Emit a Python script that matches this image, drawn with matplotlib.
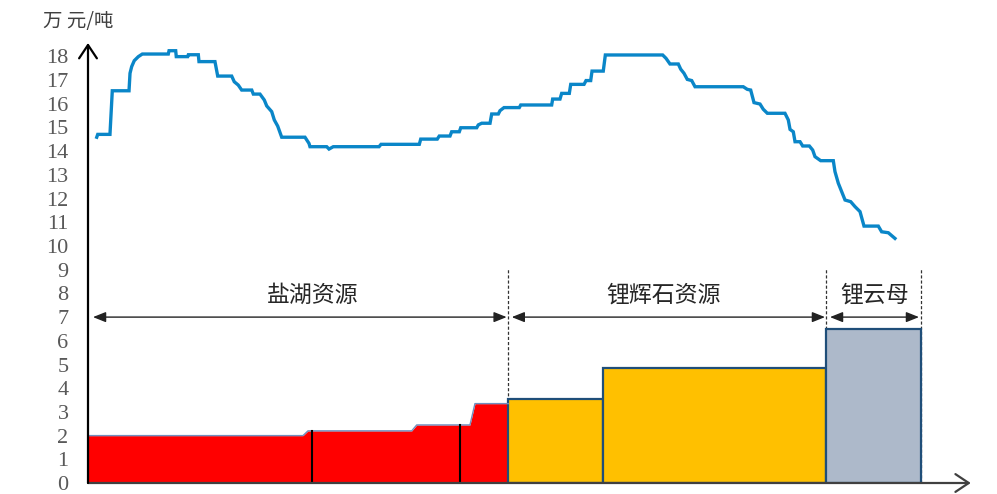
import matplotlib
matplotlib.use("Agg")
import matplotlib.pyplot as plt
import numpy as np

# ---- data -------------------------------------------------------------
# lithium carbonate price (10k yuan / tonne) along the horizontal axis
price_x = [1.05, 1.17, 2.64, 2.92, 4.93, 5.05, 5.25, 5.56, 6.05, 6.53, 9.65, 9.74,
           10.54, 10.61, 11.98, 12.06, 13.26, 13.34, 15.26, 15.59, 17.27, 17.58,
           18.06, 18.47, 19.68, 19.87, 20.67, 21.19, 21.48, 22.08, 22.39, 22.80,
           23.28, 26.08, 26.56, 26.68, 28.69, 28.97, 29.48, 34.98, 35.22, 39.82,
           39.99, 41.98, 42.22, 43.51, 43.71, 44.63, 44.80, 46.72, 46.91, 47.32,
           48.32, 48.52, 49.32, 49.52, 50.00, 51.84, 52.01, 55.73, 55.85, 56.73,
           56.93, 57.85, 58.02, 59.62, 59.86, 60.42, 60.58, 61.93, 62.18, 69.07,
           69.47, 69.95, 70.95, 71.24, 71.63, 72.03, 72.56, 72.96, 78.76, 79.24,
           79.65, 80.05, 80.77, 81.16, 81.65, 83.77, 84.17, 84.38, 84.77, 84.98,
           85.58, 85.90, 86.70, 87.10, 87.38, 88.06, 89.58, 89.78, 90.18, 90.59,
           90.99, 91.67, 92.19, 92.79, 93.27, 94.99, 95.39, 96.19, 96.99]
price_y = [14.59, 14.71, 14.71, 16.55, 16.55, 17.29, 17.57, 17.82, 17.99, 18.10, 18.10, 18.24,
           18.24, 17.99, 17.99, 18.07, 18.07, 17.78, 17.78, 17.17, 17.17, 16.93,
           16.79, 16.58, 16.58, 16.41, 16.41, 16.16, 15.91, 15.67, 15.32, 15.06,
           14.59, 14.59, 14.33, 14.19, 14.19, 14.09, 14.19, 14.19, 14.29, 14.29,
           14.51, 14.51, 14.64, 14.64, 14.82, 14.82, 14.99, 14.99, 15.11, 15.18,
           15.18, 15.57, 15.57, 15.71, 15.84, 15.84, 15.95, 15.95, 16.20, 16.20,
           16.44, 16.44, 16.82, 16.82, 16.98, 16.98, 17.38, 17.38, 18.06, 18.06,
           17.92, 17.68, 17.68, 17.46, 17.29, 17.03, 16.98, 16.72, 16.72, 16.61,
           16.58, 16.05, 15.99, 15.77, 15.60, 15.60, 15.32, 14.92, 14.82, 14.40,
           14.40, 14.22, 14.22, 14.05, 13.77, 13.60, 13.60, 13.14, 12.65, 12.29,
           11.94, 11.87, 11.66, 11.45, 10.84, 10.84, 10.60, 10.56, 10.32]

# salt-lake cost curve (cumulative capacity -> cash cost)
brine_x = [0.0, 25.84, 26.44, 38.91, 39.51, 45.91, 46.51, 50.52]
brine_y = [2.00, 2.00, 2.20, 2.20, 2.45, 2.45, 3.35, 3.35]
brine_splits = [26.92, 44.71]

# spodumene and lepidolite blocks: edges and cost
spod_edges = [50.52, 61.86, 88.67]
spod_cost = [3.53, 4.87]
lepi_edges = [88.67, 100.08]
lepi_cost = [6.49]

# resource groups
group_bounds = [0.0, 50.52, 88.67, 100.08]
group_labels = ["盐湖资源", "锂辉石资源", "锂云母"]
group_label_x = [27.0, 69.2, 94.5]

yticks = list(range(0, 19))
unit_label = "万 元/吨"

# ---- figure -------------------------------------------------------------
W, H = 997, 494
fig = plt.figure(figsize=(W / 100, H / 100), dpi=100)
x_px = 8.32   # pixels per x unit
y_px = 23.7   # pixels per y unit
left, bottom, right, top = 88, 483, 985, 38
ax = fig.add_axes([left / W, (H - bottom) / H, (right - left) / W, (bottom - top) / H])
ax.set_xlim(0, (right - left) / x_px)
ax.set_ylim(0, (bottom - top) / y_px)

for s in ax.spines.values():
    s.set_visible(False)
ax.set_xticks([])
ax.set_yticks(yticks)
ax.set_yticklabels([str(t) for t in yticks], fontfamily="Liberation Serif",
                   fontsize=16, color="#595959")
ax.tick_params(axis="y", length=0, pad=14)

cjk = ["Noto Sans CJK SC", "DejaVu Sans"]

# group separators (dashed)
for xb in group_bounds[1:]:
    ax.plot([xb, xb], [0, 9.07], color="#333333", lw=0.9, ls=(0, (2.5, 1.6)), zorder=1)

# salt-lake block
ax.fill_between(brine_x, 0, brine_y, color="#FF0000", lw=0, zorder=2)
ax.plot(brine_x, brine_y, color="#6F8FBF", lw=1.0, zorder=3)
for xs in brine_splits:
    ax.plot([xs, xs], [0, np.interp(xs, brine_x, brine_y)], color="black", lw=1.5, zorder=3)

# spodumene blocks
for i, c in enumerate(spod_cost):
    ax.bar(spod_edges[i], c, width=spod_edges[i + 1] - spod_edges[i], align="edge",
           color="#FFC000", edgecolor="#1F4E79", lw=1.6, zorder=2)
# lepidolite block
for i, c in enumerate(lepi_cost):
    ax.bar(lepi_edges[i], c, width=lepi_edges[i + 1] - lepi_edges[i], align="edge",
           color="#ADB9CA", edgecolor="#1F4E79", lw=1.6, zorder=2)

# price line
ax.plot(price_x, price_y, color="#0A86C8", lw=2.4, solid_joinstyle="miter", zorder=4)

# range arrows and labels
gaps = [(0.6, 50.32), (50.93, 88.58), (89.18, 99.88)]
for (a, b), lab, lx in zip(gaps, group_labels, group_label_x):
    ax.annotate("", xy=(b, 7.0), xytext=(a, 7.0),
                arrowprops=dict(arrowstyle="<|-|>,head_length=0.55,head_width=0.22",
                                color="#222222", lw=1.0, shrinkA=0, shrinkB=0,
                                mutation_scale=14), zorder=3)
    ax.text(lx, 7.92, lab, ha="center", va="center", fontsize=16.5,
            family=cjk, color="#262626")

# axes with arrowheads
ax.annotate("", xy=(106.1, 0), xytext=(0, 0),
            arrowprops=dict(arrowstyle="->,head_length=0.6,head_width=0.4",
                            color="#404040", lw=1.6, shrinkA=0, shrinkB=0,
                            mutation_scale=16), zorder=5)
ax.annotate("", xy=(0, (bottom - 43) / y_px), xytext=(0, 0),
            arrowprops=dict(arrowstyle="->,head_length=0.6,head_width=0.4",
                            color="black", lw=1.6, shrinkA=0, shrinkB=0,
                            mutation_scale=16), zorder=5)

fig.text(78 / W, 1 - 22 / H, unit_label, ha="center", va="center",
         fontsize=14, family=cjk, color="#404040")

fig.savefig("out.png", dpi=100)
